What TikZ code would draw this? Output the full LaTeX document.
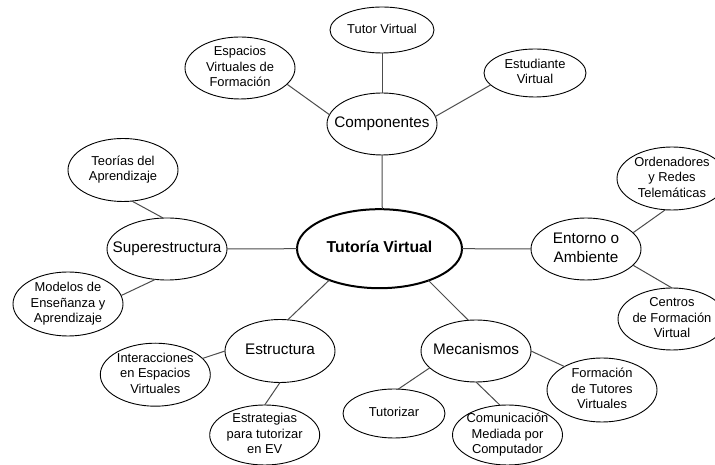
\documentclass[tikz,border=0pt]{standalone}
\usepackage{fontspec}
\setmainfont{Liberation Sans}
\usetikzlibrary{shapes.geometric}
\newcommand{\ctext}[1]{\raisebox{-0.25em}[0pt][0pt]{\makebox[0pt]{\begin{tabular}{@{}c@{}}#1\end{tabular}}}}
\tikzset{
  bub/.style={draw=black, line width=0.9pt, ellipse, inner sep=0pt, outer sep=0pt,
    font=\fontsize{12.9}{15.3}\selectfont},
  mid/.style={bub, font=\fontsize{15.3}{18.5}\selectfont},
  mainbub/.style={bub, line width=2pt, font=\fontsize{15.8}{18}\selectfont\bfseries},
  link/.style={draw=black!70, line width=1pt},
}
\begin{document}
\begin{tikzpicture}[x=1pt,y=1pt]
\clip (0,0) rectangle (715,465);
\fill[white] (0,0) rectangle (715,465);
% centre
\node[mainbub, minimum width=165pt, minimum height=79pt] (tut) at (379.5,216.3) {\ctext{Tutoría Virtual}};
% level 1
\node[mid, minimum width=110pt, minimum height=62pt] (comp) at (382,341) {\ctext{Componentes}};
\node[mid, minimum width=120pt, minimum height=62pt] (sup) at (167,216) {\ctext{Superestructura}};
\node[mid, minimum width=110pt, minimum height=63pt] (estr) at (280,114) {\ctext{Estructura}};
\node[mid, minimum width=110pt, minimum height=62pt] (mec) at (476,114) {\ctext{Mecanismos}};
\node[mid, minimum width=110pt, minimum height=62pt] (ent) at (586,216) {\ctext{Entorno o\\Ambiente}};
% level 2
\node[bub, minimum width=104pt, minimum height=46pt] (tutor) at (382,435) {\ctext{Tutor Virtual}};
\node[bub, minimum width=110pt, minimum height=62pt] (esp) at (240,397) {\ctext{Espacios\\Virtuales de\\Formación}};
\node[bub, minimum width=102pt, minimum height=48pt] (estu) at (535,392) {\ctext{Estudiante\\Virtual}};
\node[bub, minimum width=110pt, minimum height=63pt] (teo) at (123,295) {\ctext{Teorías del\\Aprendizaje}};
\node[bub, minimum width=110pt, minimum height=64pt] (mod) at (68,161) {\ctext{Modelos de\\Enseñanza y\\Aprendizaje}};
\node[bub, minimum width=110pt, minimum height=63pt] (inter) at (155.3,90.3) {\ctext{Interacciones\\en Espacios\\Virtuales}};
\node[bub, minimum width=110pt, minimum height=60pt] (estrat) at (264.7,30) {\ctext{Estrategias\\para tutorizar\\en EV}};
\node[bub, minimum width=110pt, minimum height=63pt] (ord) at (672,286.5) {\ctext{Ordenadores\\y Redes\\Telemáticas}};
\node[bub, minimum width=108pt, minimum height=62pt] (cen) at (672,146) {\ctext{Centros\\de Formación\\Virtual}};
\node[bub, minimum width=110pt, minimum height=64pt] (form) at (602,75) {\ctext{Formación\\de Tutores\\Virtuales}};
\node[bub, minimum width=102pt, minimum height=49pt] (tuz) at (394,51.5) {\ctext{Tutorizar}};
\node[bub, minimum width=110pt, minimum height=60pt] (com) at (507.5,30) {\ctext{Comunicación\\Mediada por\\Computador}};
% connectors
\draw[link] (comp.north) -- (tutor.south);
\draw[link] (comp.170.5) -- (esp.-19);
\draw[link] (comp.8) -- (estu.195.6);
\draw[link] (comp.south) -- (tut.86);
\draw[link] (sup.97) -- (teo.-74);
\draw[link] (sup.-111) -- (mod.9);
\draw[link] (sup.east) -- (tut.west);
\draw[link] (tut.-148) -- (estr.76);
\draw[link] (estr.west) -- (inter.19.5);
\draw[link] (estr.south) -- (estrat.north);
\draw[link] (tut.east) -- (ent.west);
\draw[link] (ent.19.4) -- (ord.-102.5);
\draw[link] (ent.-19.9) -- (cen.north);
\draw[link] (tut.-33.4) -- (mec.104);
\draw[link] (mec.east) -- (form.148);
\draw[link] (mec.-160.7) -- (tuz.80);
\draw[link] (mec.south) -- (com.104);
\end{tikzpicture}
\end{document}
